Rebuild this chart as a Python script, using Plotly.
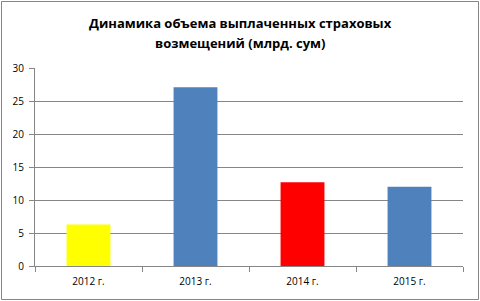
import plotly.graph_objects as go

categories = ["2012 г.", "2013 г.", "2014 г.", "2015 г."]
values = [6.3, 27.1, 12.7, 12.0]
colors = ["#FFFF00", "#4F81BD", "#FF0000", "#4F81BD"]
title_lines = ["Динамика объема выплаченных страховых", "возмещений (млрд. сум)"]

W, H = 480, 301
ml, mr, mt, mb = 35, 17, 68, 35
pw, ph = W - ml - mr, H - mt - mb

fig = go.Figure(go.Bar(x=categories, y=values, marker=dict(color=colors, line=dict(width=0)),
                       width=0.41))
fig.update_layout(
    width=W, height=H,
    margin=dict(l=ml, r=mr, t=mt, b=mb),
    paper_bgcolor="white", plot_bgcolor="white",
    font=dict(family="Open Sans, Liberation Sans, sans-serif", size=10, color="black"),
    showlegend=False,
    xaxis=dict(type="category", tickson="boundaries", ticks="outside", ticklen=5,
               tickcolor="#868686", showline=True, linecolor="#868686", showgrid=False,
               tickfont=dict(size=10), ticklabelstandoff=6),
    yaxis=dict(range=[0, 30], dtick=5, ticks="outside", ticklen=5, tickcolor="#868686",
               showline=True, linecolor="#868686", gridcolor="#868686", gridwidth=1,
               zeroline=False, tickfont=dict(size=10), ticklabelstandoff=3),
)
for line, ypx in zip(title_lines, [23, 43]):
    fig.add_annotation(text="<b>" + line + "</b>", xref="paper", yref="paper",
                       x=(240 - ml) / pw, y=1 + (mt - ypx) / ph, xanchor="center", yanchor="middle",
                       showarrow=False, font=dict(size=13, family="Open Sans, sans-serif"))
fig.add_shape(type="rect", xref="paper", yref="paper",
              x0=-(ml - 1.5) / pw, x1=1 + (mr - 1.5) / pw,
              y0=-(mb - 1.5) / ph, y1=1 + (mt - 1.5) / ph,
              line=dict(color="#868686", width=1), fillcolor="rgba(0,0,0,0)", layer="below")
fig.write_html("out.html")
